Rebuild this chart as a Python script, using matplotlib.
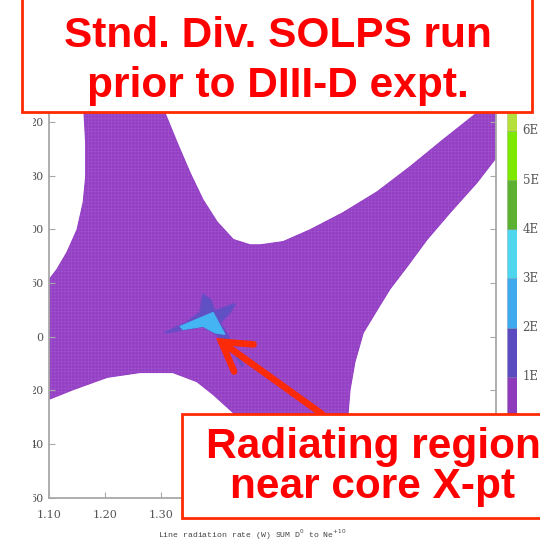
import matplotlib
matplotlib.use('Agg')
import matplotlib.pyplot as plt
from matplotlib.patches import Polygon, Rectangle, FancyArrowPatch

# radiating mesh outline
mesh_x = [1.1625, 1.1625, 1.1655, 1.1655, 1.161, 1.150, 1.132, 1.114, 1.10, 1.10, 1.143, 1.204, 1.2625, 1.321,
          1.364, 1.393, 1.429, 1.477, 1.602, 1.634, 1.6375, 1.646, 1.661, 1.686, 1.709, 1.739, 1.775, 1.816,
          1.864, 1.898, 1.898, 1.8875, 1.864, 1.8036, 1.745, 1.686, 1.625, 1.566, 1.518, 1.477, 1.459, 1.429,
          1.400, 1.375, 1.352, 1.329, 1.307, 1.298]
mesh_y = [0.441, 0.417, 0.361, 0.298, 0.250, 0.199, 0.157, 0.125, 0.106, -0.117, -0.099, -0.076, -0.067, -0.067,
          -0.084, -0.108, -0.142, -0.248, -0.248, -0.142, -0.099, -0.048, 0.007, 0.050, 0.089, 0.130, 0.181, 0.231,
          0.287, 0.333, 0.441, 0.441, 0.417, 0.367, 0.317, 0.270, 0.231, 0.199, 0.177, 0.171, 0.171, 0.181,
          0.214, 0.255, 0.305, 0.361, 0.417, 0.441]

# contour around the X-point
dark_x = [1.307, 1.346, 1.370, 1.375, 1.3875, 1.396, 1.432, 1.423, 1.405, 1.418, 1.446, 1.429, 1.409, 1.396, 1.375, 1.339]
dark_y = [0.007, 0.026, 0.045, 0.078, 0.069, 0.047, 0.061, 0.045, 0.026, 0.004, -0.056, -0.028, -0.006, 0.007, 0.019, 0.013]
light_x = [1.334, 1.393, 1.414, 1.396, 1.375, 1.339]
light_y = [0.019, 0.045, 0.004, 0.007, 0.019, 0.013]

x_ticks = [1.10, 1.20, 1.30, 1.40, 1.50, 1.60, 1.70, 1.80]
x_labels = ['1.10', '1.20', '1.30', '1.40', '1.50', '1.60', '1.70', '1.80']
y_ticks = [0.40, 0.30, 0.20, 0.10, 0.0, -0.10, -0.20, -0.30]
y_labels = ['20', '80', '00', '60', '0', '20', '40', '60']

# colour bar levels
levels = [0, 1, 2, 3, 4, 5, 6]
level_colors = ['#8e3bbb', '#5a4cc0', '#3fa9ee', '#4dd6ee', '#5cb230', '#7de800', '#b5e03c']
level_labels = ['1E', '2E', '3E', '4E', '5E', '6E']

W, H = 540, 542
fig = plt.figure(figsize=(5.4, 5.42), dpi=100)
ax = fig.add_axes([49 / W, (H - 497.5) / H, 447 / W, 397.5 / H])

grey = '#a8a8a8'
text_grey = '#555555'

plt.rcParams['hatch.linewidth'] = 0.3
ax.add_patch(Polygon(list(zip(mesh_x, mesh_y)), closed=True, facecolor='#9440c4', edgecolor='#a458d0',
                     hatch='+++++', linewidth=0))
ax.add_patch(Polygon(list(zip(mesh_x, mesh_y)), closed=True, facecolor='none', edgecolor='#9440c4', linewidth=0.8))
ax.add_patch(Polygon(list(zip(dark_x, dark_y)), closed=True, facecolor='#5f50c4', edgecolor='#6a4cc6', linewidth=1.6))
ax.add_patch(Polygon(list(zip(light_x, light_y)), closed=True, facecolor='#45b4f2', edgecolor='#45b4f2', linewidth=0.8))

ax.set_xlim(1.10, 1.898)
ax.set_ylim(-0.299, 0.441)
ax.set_xticks(x_ticks)
ax.set_xticklabels(x_labels, family='DejaVu Serif', fontsize=8, color=text_grey)
ax.set_yticks(y_ticks)
ax.set_yticklabels(y_labels, family='DejaVu Serif', fontsize=8, color=text_grey)
ax.tick_params(axis='both', direction='in', length=4.5, width=0.8, color=grey)
ax.tick_params(axis='x', pad=9)
ax.tick_params(axis='y', right=True, pad=4)
for s in ax.spines.values():
    s.set_color(grey)
    s.set_linewidth(1.3)

fig.text(252 / W, 1 - 535 / H, 'Line radiation rate (W) SUM D$^{0}$ to Ne$^{+10}$', family='Liberation Mono',
         fontsize=5.9, color='#444444', ha='center', va='center')

# colour bar
cax = fig.add_axes([507 / W, (H - 426) / H, 10 / W, 326 / H])
cax.bar([0] * len(levels), [1] * len(levels), bottom=levels, width=1, color=level_colors,
        edgecolor='#55555555', linewidth=0.4)
cax.set_xlim(-0.5, 0.5)
cax.set_ylim(0, 6.63)
cax.axis('off')
for lev, lab in zip(levels[1:], level_labels):
    cax.annotate(lab, (0.5, lev), xytext=(4, 0), textcoords='offset points', family='DejaVu Serif',
                 fontsize=8.5, color=text_grey, va='center', annotation_clip=False)

# overlay in figure pixels
over = fig.add_axes([0, 0, 1, 1], facecolor='none')
over.set_xlim(0, W)
over.set_ylim(H, 0)
over.axis('off')
over.add_patch(Rectangle((0, 100), 33, 410, facecolor='white', edgecolor='none'))

red = '#ff2a00'
over.add_patch(FancyArrowPatch((322, 414), (216, 338), arrowstyle='->,head_length=20,head_width=12',
                               mutation_scale=1, color='#fb2a08', linewidth=4.8, shrinkA=0, shrinkB=0,
                               capstyle='round', joinstyle='miter'))
over.add_patch(Rectangle((22, -3), 510, 115, facecolor='white', edgecolor=red, linewidth=2))
over.add_patch(Rectangle((182, 414), 370, 104, facecolor='white', edgecolor=red, linewidth=2))

over.text(278, 61, 'Stnd. Div. SOLPS run\nprior to DIII-D expt.', family='Liberation Sans', weight='bold',
          fontsize=30.5, color='#fe0000', ha='center', va='center', linespacing=1.3)
over.text(373, 467, 'Radiating region\nnear core X-pt', family='Liberation Sans', weight='bold',
          fontsize=30.5, color='#fe0000', ha='center', va='center', linespacing=1.03)

fig.savefig('out.png', dpi=100)
